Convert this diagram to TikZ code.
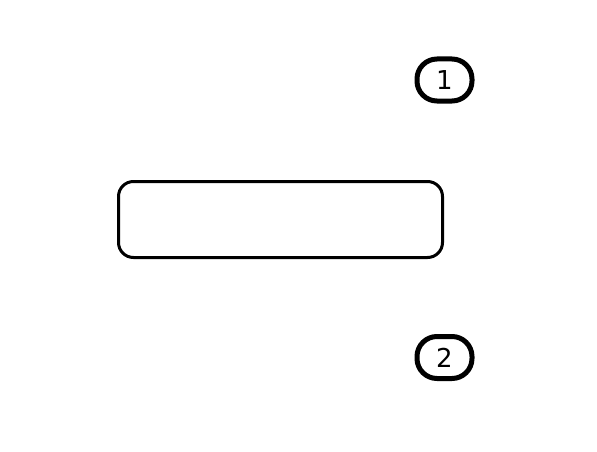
\documentclass[tikz,border=0pt]{standalone}
\usepackage{fontspec}
\setmainfont{DejaVu Sans}
\tikzset{
  panel/.style={draw, line width=3pt, rounded corners=15pt, minimum width=324pt, minimum height=76pt, inner sep=0pt},
  tag/.style={draw, line width=5pt, rounded corners=20pt, minimum width=55pt, minimum height=42pt, inner sep=0pt, font=\fontsize{26}{26}\selectfont}
}

\begin{document}
\begin{tikzpicture}[x=1pt,y=-1pt]
      \useasboundingbox (0,0) rectangle (597,452);
      \node[panel] (box) at (280.5,219.5) {};
      \node[tag] (tagone) at (444.5,80) {1};
      \node[tag] (tagtwo) at (444.5,357.5) {2};
    \end{tikzpicture}
\end{document}
